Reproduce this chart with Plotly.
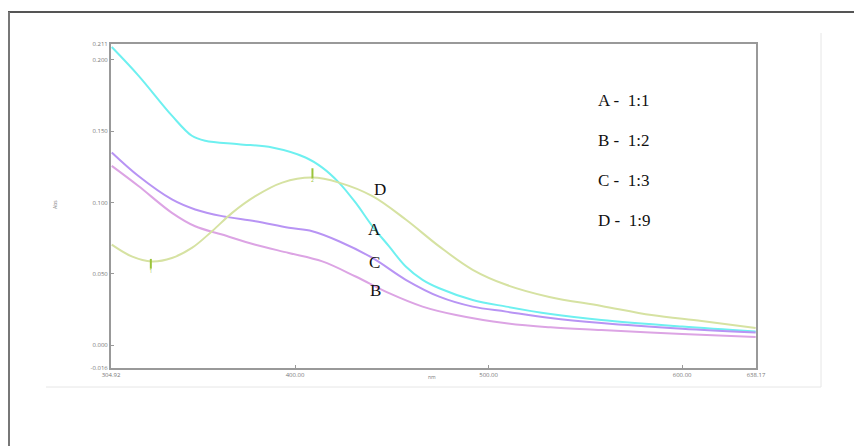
import plotly.graph_objects as go

# wavelength (nm) and absorbance for each curve
nm_A = [305.3, 319.1, 336.4, 346.7, 353.6, 370.9, 388.2, 405.4, 414.1, 422.7, 431.3, 440.0,
        448.6, 457.2, 465.9, 474.5, 491.8, 509.1, 532.0, 558.3, 600.0, 638.0]
abs_A = [0.2089, 0.1889, 0.1608, 0.1467, 0.1432, 0.1408, 0.1385, 0.1315, 0.1244, 0.1139, 0.0998, 0.0833,
         0.0692, 0.0551, 0.0458, 0.0399, 0.0317, 0.0270, 0.0218, 0.0176, 0.0130, 0.0095]

nm_C = [305.3, 319.1, 336.4, 348.4, 362.3, 379.5, 396.8, 408.9, 422.7, 440.0, 457.2, 474.5,
        491.8, 509.1, 532.0, 558.3, 600.0, 638.0]
abs_C = [0.1350, 0.1185, 0.1021, 0.0951, 0.0904, 0.0868, 0.0822, 0.0798, 0.0728, 0.0611, 0.0458, 0.0340,
         0.0270, 0.0235, 0.0190, 0.0155, 0.0115, 0.0088]

nm_B = [305.3, 319.1, 336.4, 348.4, 362.3, 379.5, 396.8, 414.1, 431.3, 448.6, 465.9, 483.2,
        509.1, 532.0, 558.3, 600.0, 638.0]
abs_B = [0.1256, 0.1115, 0.0927, 0.0833, 0.0775, 0.0704, 0.0646, 0.0587, 0.0481, 0.0364, 0.0270, 0.0211,
         0.0153, 0.0125, 0.0106, 0.0078, 0.0058]

nm_D = [305.3, 315.6, 326.0, 336.4, 346.7, 357.1, 367.5, 379.5, 393.4, 408.9, 422.7, 440.0,
        457.2, 474.5, 491.8, 509.1, 531.4, 558.3, 584.2, 610.1, 638.0]
abs_D = [0.0704, 0.0622, 0.0587, 0.0611, 0.0681, 0.0798, 0.0927, 0.1044, 0.1139, 0.1174, 0.1139, 0.1044,
         0.0880, 0.0692, 0.0528, 0.0423, 0.0338, 0.0275, 0.0211, 0.0169, 0.0120]

# peak-pick markers on curve D
peak_nm = [325.5, 409.0]
peak_abs = [0.0570, 0.1205]
peak_txt = ["1", "2"]

x_ticks = [304.92, 400.00, 500.00, 600.00, 638.17]
x_tick_labels = ["304.92", "400.00", "500.00", "600.00", "638.17"]
y_ticks = [-0.016, 0.000, 0.050, 0.100, 0.150, 0.200, 0.211]
y_tick_labels = ["-0.016", "0.000", "0.050", "0.100", "0.150", "0.200", "0.211"]

legend_lines = ["A -  1:1", "B -  1:2", "C -  1:3", "D -  1:9"]
curve_labels = ["D", "A", "C", "B"]
curve_label_pos = [(444.0, 0.109), (441.0, 0.081), (441.0, 0.058), (441.5, 0.038)]

fig = go.Figure()
series = [
    (nm_A, abs_A, "#6ef0f0"),
    (nm_C, abs_C, "#b894f4"),
    (nm_B, abs_B, "#dca4e4"),
    (nm_D, abs_D, "#d6e2a2"),
]
for xs, ys, col in series:
    fig.add_trace(go.Scatter(x=xs, y=ys, mode="lines", line=dict(color=col, width=2, shape="spline", smoothing=1.0),
                             hoverinfo="skip", showlegend=False))

fig.add_trace(go.Scatter(x=peak_nm, y=peak_abs, mode="markers+text", text=peak_txt, textposition="bottom center",
                         textfont=dict(size=5, color="#9bc43a"),
                         marker=dict(symbol="line-ns", size=7, line=dict(color="#9bc43a", width=2)),
                         hoverinfo="skip", showlegend=False))

serif = "Liberation Serif, Times New Roman, serif"

# page offset: the html body adds an 8px margin, so the figure starts at (8, 8)
OFF = 8
L, R, T, B = 111, 756, 44, 368   # plot area in page pixels


def px(x):
    return (x - L) / (R - L)


def py(y):
    return (B - y) / (B - T)


for i, t in enumerate(legend_lines):
    fig.add_annotation(x=px(596), y=py(100 + 40 * i), xref="paper", yref="paper",
                       text=t, showarrow=False, xanchor="left", yanchor="middle",
                       font=dict(family=serif, size=17, color="#111"))
for t, (xx, yy) in zip(curve_labels, curve_label_pos):
    fig.add_annotation(x=xx, y=yy, text=t, showarrow=False, xanchor="center", yanchor="middle",
                       font=dict(family=serif, size=17, color="#111"))

fig.add_annotation(x=px(50), y=py(205), xref="paper", yref="paper", text="Abs",
                   showarrow=False, textangle=-90, font=dict(size=5, color="#777"))
fig.add_annotation(x=px(432), y=py(382), xref="paper", yref="paper", text="nm",
                   showarrow=False, font=dict(size=5, color="#777"))

shapes = [
    dict(type="line", xref="paper", yref="paper", x0=px(8), x1=px(862), y0=py(12), y1=py(12),
         line=dict(color="#555", width=2)),
    dict(type="line", xref="paper", yref="paper", x0=px(9), x1=px(9), y0=py(12), y1=py(446),
         line=dict(color="#777", width=2)),
    dict(type="line", xref="paper", yref="paper", x0=px(821), x1=px(821), y0=py(33), y1=py(387),
         line=dict(color="#e6e6e6", width=1)),
    dict(type="line", xref="paper", yref="paper", x0=px(46), x1=px(821), y0=py(387), y1=py(387),
         line=dict(color="#e6e6e6", width=1)),
]

fig.update_layout(
    width=862 - OFF, height=446 - OFF,
    margin=dict(l=L - OFF, r=862 - R, t=T - OFF, b=446 - B),
    paper_bgcolor="white", plot_bgcolor="white",
    shapes=shapes,
    xaxis=dict(range=[304.92, 638.17], tickvals=x_ticks, ticktext=x_tick_labels, showgrid=False, zeroline=False,
               showline=True, linecolor="#999", linewidth=2, mirror=True, ticks="inside", ticklen=3,
               tickcolor="#999", tickfont=dict(size=6, color="#777")),
    yaxis=dict(range=[-0.016, 0.211], tickvals=y_ticks, ticktext=y_tick_labels, showgrid=False, zeroline=False,
               showline=True, linecolor="#999", linewidth=2, mirror=True, ticks="inside", ticklen=3,
               tickcolor="#999", tickfont=dict(size=6, color="#777")),
)

fig.write_html("out.html")
